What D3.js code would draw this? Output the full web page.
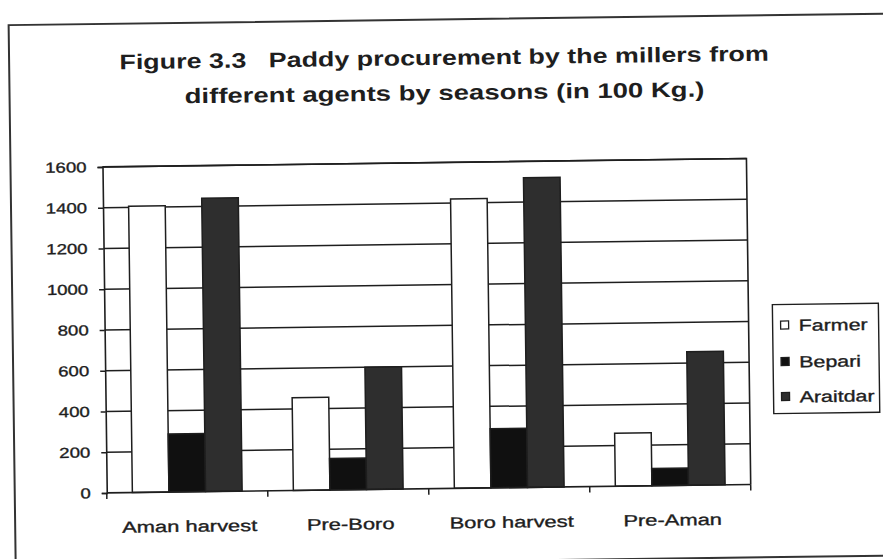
<!DOCTYPE html>
<html>
<head>
<meta charset="utf-8">
<script src="https://cdn.jsdelivr.net/npm/d3@7/dist/d3.min.js"></script>
<style>
  html, body { margin: 0; padding: 0; background: #fff; }
  svg { display: block; }
  text { font-family: "Liberation Sans", Arial, Helvetica, sans-serif; fill: #1e1e1e; }
  .lbl { stroke: #1e1e1e; stroke-width: 0.35px; }
  .title { white-space: pre; }
</style>
</head>
<body>
<svg id="chart" width="883" height="559"></svg>
<script>
// Paddy procurement by millers, by agent and season (in 100 Kg.)
const titleLines = [
  "Figure 3.3   Paddy procurement by the millers from",
  "different agents by seasons (in 100 Kg.)"
];
const categories = ["Aman harvest", "Pre-Boro", "Boro harvest", "Pre-Aman"];
const seriesNames = ["Farmer", "Bepari", "Araitdar"];
const farmer   = [1405, 455, 1420, 260];
const bepari   = [285, 155, 290, 85];
const araitdar = [1440, 600, 1520, 655];
const yTicks = [0, 200, 400, 600, 800, 1000, 1200, 1400, 1600];

const seriesValues = [farmer, bepari, araitdar];
const fills = ["#ffffff", "#101010", "#2e2e2e"];
const ink = "#1e1e1e";

const svg = d3.select("#chart");
// the whole sheet sits slightly tilted
const page = svg.append("g").attr("transform", "rotate(-0.75, 441, 280)");

// outer frame
page.append("rect")
  .attr("x", 12).attr("y", 19.5).attr("width", 900).attr("height", 542)
  .attr("fill", "none").attr("stroke", "#333").attr("stroke-width", 2);

// title
const titleY = [65, 100];
const titleSx = [1.28, 1.31];
titleLines.forEach((t, i) => {
  page.append("text")
    .attr("class", "title")
    .attr("transform", `translate(447,${titleY[i]}) scale(${titleSx[i]},1)`)
    .attr("text-anchor", "middle")
    .attr("font-size", 21).attr("font-weight", "bold")
    .text(t);
});

const plot = { left: 104, right: 748, top: 162.5, bottom: 488.5 };

const x0 = d3.scaleBand().domain(categories).range([plot.left, plot.right]).paddingInner(0).paddingOuter(0);
const inner = x0.bandwidth() / (3 + 1.4);
const x1 = d3.scaleBand().domain(seriesNames)
  .range([(x0.bandwidth() - 3 * inner) / 2, (x0.bandwidth() + 3 * inner) / 2]);
const y = d3.scaleLinear().domain([0, 1600]).range([plot.bottom, plot.top]);

// gridlines
page.append("g").selectAll("line").data(yTicks.filter(v => v > 0)).join("line")
  .attr("x1", plot.left).attr("x2", plot.right)
  .attr("y1", d => y(d)).attr("y2", d => y(d))
  .attr("stroke", ink).attr("stroke-width", 1.5);

// plot border (top and right)
page.append("path")
  .attr("d", `M${plot.left},${plot.top}H${plot.right}V${plot.bottom}`)
  .attr("fill", "none").attr("stroke", ink).attr("stroke-width", 1.6);

// bars
const groups = page.append("g").selectAll("g").data(categories).join("g")
  .attr("transform", d => `translate(${x0(d)},0)`);
groups.selectAll("rect")
  .data((c, ci) => seriesNames.map((s, si) => ({ s, si, v: seriesValues[si][ci] })))
  .join("rect")
  .attr("x", d => x1(d.s))
  .attr("width", x1.bandwidth())
  .attr("y", d => y(d.v))
  .attr("height", d => y(0) - y(d.v))
  .attr("fill", d => fills[d.si])
  .attr("stroke", ink).attr("stroke-width", 1.5);

// y axis
const yAxis = page.append("g").attr("transform", `translate(${plot.left},0)`)
  .call(d3.axisLeft(y).tickValues(yTicks).tickSize(5).tickPadding(11).tickFormat(d3.format("d")));
yAxis.select(".domain").attr("stroke", ink).attr("stroke-width", 1.6);
yAxis.selectAll(".tick line").attr("stroke", ink).attr("stroke-width", 1.5);
yAxis.selectAll(".tick text")
  .attr("class", "lbl")
  .attr("font-size", 14.5).attr("fill", ink)
  .attr("font-family", "Liberation Sans, Arial, sans-serif")
  .each(function () {
    const t = d3.select(this);
    const xx = +t.attr("x");
    t.attr("x", null).attr("transform", `translate(${xx},0) scale(1.28,1)`);
  });

// x axis: labels centred in each band, ticks between categories
const xAxis = page.append("g").attr("transform", `translate(0,${plot.bottom})`)
  .call(d3.axisBottom(x0).tickSize(0).tickPadding(0));
xAxis.select(".domain").attr("d", `M${plot.left},0H${plot.right}`)
  .attr("stroke", ink).attr("stroke-width", 1.6);
xAxis.selectAll(".tick text")
  .attr("class", "lbl")
  .attr("font-size", 16).attr("fill", ink).attr("dy", null)
  .attr("font-family", "Liberation Sans, Arial, sans-serif")
  .attr("y", null)
  .attr("transform", "translate(2,40) scale(1.37,1)");
xAxis.append("g").selectAll("line")
  .data(d3.range(categories.length + 1)).join("line")
  .attr("x1", i => plot.left + i * x0.step()).attr("x2", i => plot.left + i * x0.step())
  .attr("y1", 0).attr("y2", 6)
  .attr("stroke", ink).attr("stroke-width", 1.5);

// legend
const legend = page.append("g");
legend.append("rect")
  .attr("x", 772).attr("y", 309).attr("width", 106).attr("height", 109)
  .attr("fill", "#fff").attr("stroke", ink).attr("stroke-width", 1.4);
const legendY = [329.5, 366, 401];
seriesNames.forEach((s, i) => {
  legend.append("rect")
    .attr("x", 780).attr("y", legendY[i] - 4).attr("width", 8).attr("height", 8)
    .attr("fill", fills[i]).attr("stroke", ink).attr("stroke-width", 1.3);
  legend.append("text")
    .attr("class", "lbl")
    .attr("transform", `translate(798,${legendY[i] + 6}) scale(1.34,1)`)
    .attr("font-size", 16)
    .text(s);
});
</script>
</body>
</html>
